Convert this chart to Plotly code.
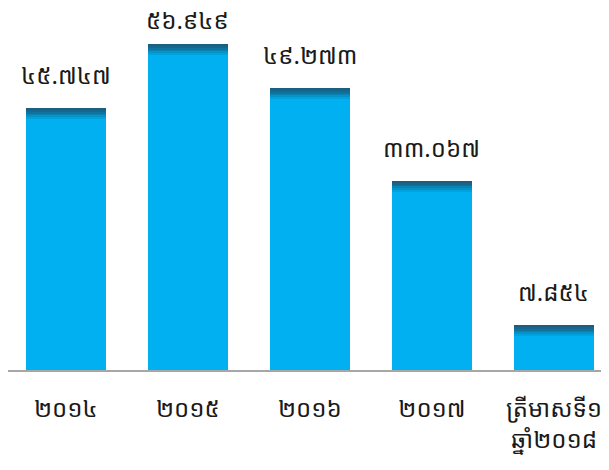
import plotly.graph_objects as go

categories = ["២០១៤", "២០១៥", "២០១៦", "២០១៧", "ត្រីមាសទី១<br>ឆ្នាំ២០១៨"]
values = [45.747, 56.949, 49.273, 33.067, 7.854]
value_labels = ["៤៥.៧៤៧", "៥៦.៩៤៩", "៤៩.២៧៣", "៣៣.០៦៧", "៧.៨៥៤"]

FONT = "Khmer OS, Khmer OS System, Noto Sans Khmer, Noto Serif Khmer, Khmer, sans-serif"
BASE = "#00B0F0"
# top shading band (dark at top fading into the bar colour)
band_colors = ["#1B5E7E", "#17678C", "#11739C", "#0A82B3", "#0592C8", "#02A2DD"]
band = 0.3  # data units per band step

YMAX = 63.24
PLOT_H = 362

fig = go.Figure()
fig.add_trace(go.Bar(
    x=categories, y=[v - band * len(band_colors) for v in values],
    marker=dict(color=BASE, line=dict(width=0)), hoverinfo="skip",
))
for c in reversed(band_colors):
    fig.add_trace(go.Bar(
        x=categories, y=[band] * len(values),
        marker=dict(color=c, line=dict(width=0)), hoverinfo="skip",
    ))

px_per_unit = PLOT_H / YMAX
for cat, v, lab in zip(categories, values, value_labels):
    top_px = (YMAX - v) * px_per_unit
    shift = min(15, top_px - 30)  # keep the label inside the figure
    fig.add_annotation(x=cat, y=v, text=lab, showarrow=False,
                       yanchor="bottom", yshift=shift,
                       font=dict(family=FONT, size=24, color="#1A1A1A"))

fig.update_layout(
    width=601, height=462,
    margin=dict(l=0, r=0, t=0, b=100),
    barmode="stack", bargap=0.344,
    showlegend=False,
    plot_bgcolor="white", paper_bgcolor="white",
    font=dict(family=FONT, size=24, color="#1A1A1A"),
    xaxis=dict(range=[-0.475, 4.451], showline=True, linecolor="#A6A6A6",
               linewidth=2, showgrid=False, ticks="", ticklabelstandoff=16,
               automargin=False,
               tickfont=dict(family=FONT, size=24, color="#1A1A1A")),
    yaxis=dict(range=[0, YMAX], visible=False, showgrid=False),
)

fig.write_html("out.html")
